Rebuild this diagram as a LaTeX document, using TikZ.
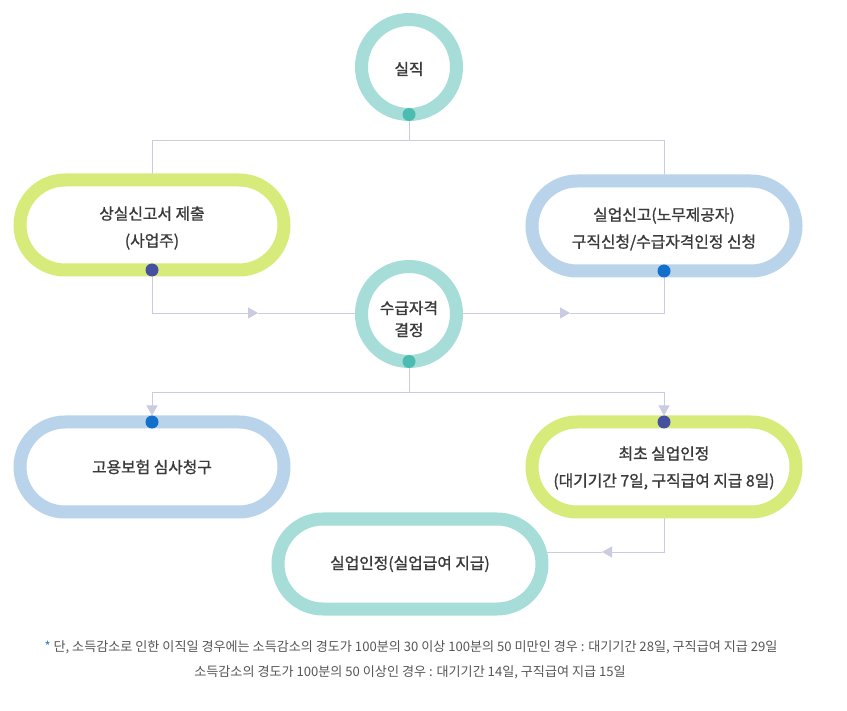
\documentclass[tikz,border=0pt]{standalone}
\usepackage{fontspec}
\setmainfont{Noto Sans CJK KR}
\newfontfamily\krbox[FakeBold=1.1]{Noto Sans CJK KR}
\usepackage{xcolor}
\usetikzlibrary{arrows.meta}
\pgfdeclarelayer{bg}
\pgfsetlayers{bg,main}
\definecolor{ringteal}{HTML}{A6DDD8}
\definecolor{ringgreen}{HTML}{D7EB7B}
\definecolor{ringblue}{HTML}{B8D3EA}
\definecolor{dotteal}{HTML}{4ABDB0}
\definecolor{dotindigo}{HTML}{4650A0}
\definecolor{dotblue}{HTML}{1270CC}
\definecolor{linelav}{HTML}{CBCBE2}
\definecolor{txtgray}{HTML}{3A3A3A}
\definecolor{notegray}{HTML}{555555}
\definecolor{starblue}{HTML}{2F7BD4}
\newcommand{\lowr}[2][3pt]{\raisebox{-#1}[\height][\depth]{#2}}

\begin{document}
\begin{tikzpicture}[x=1pt, y=-1pt,
  pill/.style={rectangle, draw=#1, line width=13pt, fill=white, outer sep=0pt,
               rounded corners=45pt, minimum width=264pt, minimum height=90pt,
               align=center, font=\krbox\fontsize{15.8}{27}\selectfont, text=txtgray},
  ring/.style={circle, draw=ringteal, line width=13pt, fill=white, outer sep=0pt,
               minimum size=95pt, inner sep=0pt, align=center,
               font=\krbox\fontsize{15.8}{22}\selectfont, text=txtgray},
  knob/.style={circle, fill=#1, minimum size=13pt, inner sep=0pt},
  note/.style={font=\fontsize{13.1}{15}\selectfont, text=notegray},
  link/.style={draw=linelav, line width=0.9pt},
  arrow/.style={link, -{Triangle[length=10pt, width=11pt]}}
]
\useasboundingbox (0,0) rectangle (847,711);

\node[ring] (quit) at (409,67) {\lowr[2pt]{실직}};
\node[pill=ringgreen] (report) at (152,225) {\lowr{상실신고서 제출}\\\lowr{(사업주)}};
\node[pill=ringblue] (apply) at (664,226) {\lowr{실업신고(노무제공자)}\\\lowr{구직신청/수급자격인정 신청}};
\node[ring] (qualify) at (409,314) {\lowr[5pt]{수급자격}\\\lowr[5pt]{결정}};
\node[pill=ringblue] (appeal) at (152,467) {고용보험 심사청구};
\node[pill=ringgreen] (first) at (664,467) {\lowr[1pt]{최초 실업인정}\\\lowr[1pt]{(대기기간 7일, 구직급여 지급 8일)}};
\node[pill=ringteal] (recog) at (410,564) {실업인정(실업급여 지급)};

\node[knob=dotteal] (quitdot) at (quit.south) {};
\node[knob=dotindigo] (reportdot) at (report.south) {};
\node[knob=dotblue] (applydot) at (apply.south) {};
\node[knob=dotteal] (qualifydot) at (qualify.south) {};
\node[knob=dotblue] (appealdot) at (appeal.north) {};
\node[knob=dotindigo] (firstdot) at (first.north) {};

\coordinate (splitA) at (409,140);
\coordinate (arrL) at (258,313);
\coordinate (arrR) at (570,313);
\coordinate (splitB) at (409,392);
\coordinate (arrB) at (602,552);

\begin{pgfonlayer}{bg}
\draw[link] (quit) -- (splitA) -| (report);
\draw[link] (splitA) -| (apply);
\draw[arrow] (report) |- (arrL);
\draw[link] (arrL) -- (arrL -| qualify);
\draw[arrow] (arrR -| qualify) -- (arrR);
\draw[link] (arrR) -| (apply);
\draw[link] (qualify) -- (splitB);
\draw[arrow] (splitB) -| ([yshift=6.5pt]appeal.north);
\draw[arrow] (splitB) -| ([yshift=6.5pt]first.north);
\draw[arrow] (first) |- (arrB);
\draw[link] (arrB) -- (arrB -| recog);
\end{pgfonlayer}

\node[note] (note1) at (411,647) {{\color{starblue}*} 단, 소득감소로 인한 이직일 경우에는 소득감소의 경도가 100분의 30 이상 100분의 50 미만인 경우 : 대기기간 28일, 구직급여 지급 29일};
\node[note] (note2) at (410,672) {소득감소의 경도가 100분의 50 이상인 경우 : 대기기간 14일, 구직급여 지급 15일};
\end{tikzpicture}
\end{document}
